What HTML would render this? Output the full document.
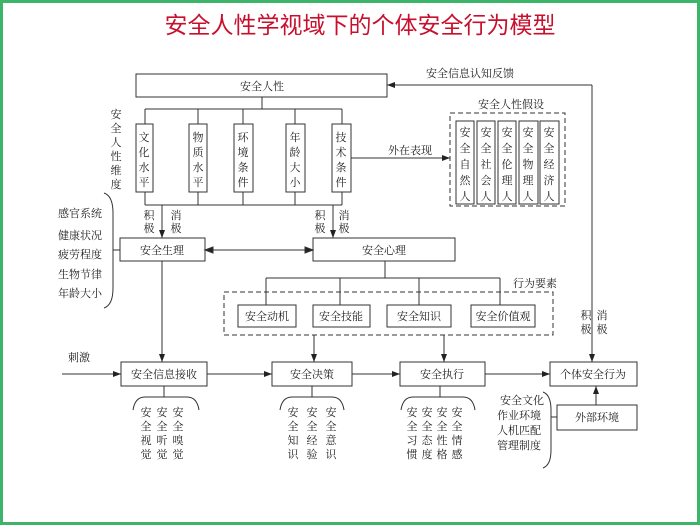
<!DOCTYPE html>
<html><head><meta charset="utf-8"><style>
html,body{margin:0;padding:0;background:#fff;}
svg{display:block;}
text{font-family:"Liberation Serif","Noto Serif CJK SC","Noto Sans CJK SC",serif;fill:#222;font-size:11px;}
</style></head><body>
<svg width="700" height="525" viewBox="0 0 700 525" xmlns="http://www.w3.org/2000/svg">
<defs><marker id="a" markerWidth="8" markerHeight="6" refX="8" refY="3" orient="auto" markerUnits="userSpaceOnUse"><path d="M0,0 L8,3 L0,6 z" fill="#222"/></marker></defs>
<rect x="1.5" y="1.5" width="697" height="522" fill="none" stroke="#3cb46a" stroke-width="3"/>
<text x="360" y="33" text-anchor="middle" style="font-size:23px;fill:#c8102e;font-family:'Liberation Sans','Noto Sans CJK SC',sans-serif">安全人性学视域下的个体安全行为模型</text>
<g stroke="#333" stroke-width="1" fill="none">
<rect x="136" y="74" width="251" height="23"/>
<line x1="592" y1="85" x2="387" y2="85" marker-end="url(#a)"/>
<line x1="592" y1="85" x2="592" y2="362" marker-end="url(#a)"/>
<line x1="262" y1="97" x2="262" y2="109"/>
<line x1="145" y1="109" x2="342" y2="109"/>
<line x1="145" y1="205" x2="342" y2="205"/>
<line x1="145" y1="109" x2="145" y2="205"/><line x1="198" y1="109" x2="198" y2="205"/><line x1="243" y1="109" x2="243" y2="205"/><line x1="295" y1="109" x2="295" y2="205"/><line x1="342" y1="109" x2="342" y2="205"/>
<line x1="162" y1="205" x2="162" y2="238" marker-end="url(#a)"/>
<line x1="333" y1="205" x2="333" y2="238" marker-end="url(#a)"/>
<line x1="351" y1="158" x2="450" y2="158" marker-end="url(#a)"/>
<rect x="450" y="113" width="115" height="93" stroke-dasharray="5,3"/>
<rect x="120" y="238" width="85" height="23"/>
<rect x="313" y="238" width="142" height="23"/>
<line x1="212" y1="250" x2="305" y2="250"/>
<path d="M205,250 l8,-3 v6 z M313,250 l-8,-3 v6 z" fill="#222"/>
<path d="M104,193 q9,3 9,20 v75 q0,17 -9,20"/>
<line x1="113" y1="250" x2="120" y2="250"/>
<line x1="385" y1="261" x2="385" y2="278"/>
<line x1="266" y1="278" x2="500" y2="278"/>
<line x1="266" y1="278" x2="266" y2="305"/><line x1="340" y1="278" x2="340" y2="305"/><line x1="419" y1="278" x2="419" y2="305"/><line x1="500" y1="278" x2="500" y2="305"/>
<rect x="224" y="292" width="329" height="43" stroke-dasharray="5,3"/>
<rect x="238" y="305" width="58" height="22"/>
<rect x="313" y="305" width="57" height="22"/>
<rect x="387" y="305" width="64" height="22"/>
<rect x="471" y="305" width="64" height="22"/>
<line x1="162" y1="261" x2="162" y2="362" marker-end="url(#a)"/>
<line x1="314" y1="335" x2="314" y2="362" marker-end="url(#a)"/>
<line x1="444" y1="335" x2="444" y2="362" marker-end="url(#a)"/>
<rect x="121" y="362" width="86" height="24"/>
<rect x="272" y="362" width="80" height="24"/>
<rect x="400" y="362" width="85" height="24"/>
<rect x="550" y="362" width="87" height="24"/>
<rect x="557" y="405" width="80" height="25"/>
<line x1="62" y1="374" x2="121" y2="374" marker-end="url(#a)"/>
<line x1="207" y1="374" x2="272" y2="374" marker-end="url(#a)"/>
<line x1="352" y1="374" x2="400" y2="374" marker-end="url(#a)"/>
<line x1="485" y1="374" x2="550" y2="374" marker-end="url(#a)"/>
<line x1="596" y1="405" x2="596" y2="386" marker-end="url(#a)"/>
<line x1="164" y1="386" x2="164" y2="397"/>
<path d="M133,410 q2,-13 12,-13 h42 q10,0 12,13"/>
<line x1="312" y1="386" x2="312" y2="397"/>
<path d="M280,410 q2,-13 12,-13 h40 q10,0 12,13"/>
<line x1="440" y1="386" x2="440" y2="397"/>
<path d="M401,410 q2,-13 12,-13 h50 q10,0 12,13"/>
<path d="M543,392 q8,3 8,18 v40 q0,15 -8,18"/>
<line x1="551" y1="417" x2="557" y2="417"/>
</g>
<g>
<rect x="456" y="121" width="18" height="83" fill="none" stroke="#333"/>
<rect x="477" y="121" width="18" height="83" fill="none" stroke="#333"/>
<rect x="498" y="121" width="18" height="83" fill="none" stroke="#333"/>
<rect x="519" y="121" width="19" height="83" fill="none" stroke="#333"/>
<rect x="540" y="121" width="19" height="83" fill="none" stroke="#333"/>
<rect x="136" y="124" width="17" height="68" fill="#fff" stroke="#333"/>
<rect x="189" y="124" width="18" height="68" fill="#fff" stroke="#333"/>
<rect x="234" y="124" width="19" height="68" fill="#fff" stroke="#333"/>
<rect x="286" y="124" width="19" height="68" fill="#fff" stroke="#333"/>
<rect x="332" y="124" width="19" height="68" fill="#fff" stroke="#333"/>
</g>
<g text-anchor="middle">
<text x="262" y="90">安全人性</text>
<text x="470" y="77">安全信息认知反馈</text>
<text x="511" y="108">安全人性假设</text>
<text x="410" y="154">外在表现</text>
<text x="162" y="254">安全生理</text>
<text x="384" y="254">安全心理</text>
<text x="535" y="287">行为要素</text>
<text x="267" y="320">安全动机</text>
<text x="341" y="320">安全技能</text>
<text x="419" y="320">安全知识</text>
<text x="503" y="320">安全价值观</text>
<text x="164" y="378">安全信息接收</text>
<text x="312" y="378">安全决策</text>
<text x="442" y="378">安全执行</text>
<text x="593" y="378">个体安全行为</text>
<text x="597" y="421">外部环境</text>
<text x="79" y="361">刺激</text>
<text x="149" y="219">积</text><text x="149" y="232">极</text>
<text x="176" y="219">消</text><text x="176" y="232">极</text>
<text x="320" y="219">积</text><text x="320" y="232">极</text>
<text x="344" y="219">消</text><text x="344" y="232">极</text>
<text x="586" y="319">积</text><text x="586" y="333">极</text>
<text x="602" y="319">消</text><text x="602" y="333">极</text>
</g>
<g text-anchor="start">
<text x="58" y="217">感官系统</text>
<text x="58" y="239">健康状况</text>
<text x="58" y="258">疲劳程度</text>
<text x="58" y="278">生物节律</text>
<text x="58" y="297">年龄大小</text>
<text x="500" y="404">安全文化</text>
<text x="497" y="419">作业环境</text>
<text x="497" y="434">人机匹配</text>
<text x="497" y="449">管理制度</text>
</g>
<g text-anchor="middle">
<text x="116" y="118">安</text><text x="116" y="132">全</text><text x="116" y="146">人</text><text x="116" y="160">性</text><text x="116" y="174">维</text><text x="116" y="188">度</text>
<text x="144" y="141">文</text><text x="144" y="156">化</text><text x="144" y="171">水</text><text x="144" y="186">平</text>
<text x="198" y="141">物</text><text x="198" y="156">质</text><text x="198" y="171">水</text><text x="198" y="186">平</text>
<text x="243" y="141">环</text><text x="243" y="156">境</text><text x="243" y="171">条</text><text x="243" y="186">件</text>
<text x="295" y="141">年</text><text x="295" y="156">龄</text><text x="295" y="171">大</text><text x="295" y="186">小</text>
<text x="341" y="141">技</text><text x="341" y="156">术</text><text x="341" y="171">条</text><text x="341" y="186">件</text>
<text x="465" y="136">安</text><text x="465" y="152">全</text><text x="465" y="168">自</text><text x="465" y="184">然</text><text x="465" y="200">人</text>
<text x="486" y="136">安</text><text x="486" y="152">全</text><text x="486" y="168">社</text><text x="486" y="184">会</text><text x="486" y="200">人</text>
<text x="507" y="136">安</text><text x="507" y="152">全</text><text x="507" y="168">伦</text><text x="507" y="184">理</text><text x="507" y="200">人</text>
<text x="528" y="136">安</text><text x="528" y="152">全</text><text x="528" y="168">物</text><text x="528" y="184">理</text><text x="528" y="200">人</text>
<text x="549" y="136">安</text><text x="549" y="152">全</text><text x="549" y="168">经</text><text x="549" y="184">济</text><text x="549" y="200">人</text>
<text x="146" y="416">安</text><text x="146" y="430">全</text><text x="146" y="444">视</text><text x="146" y="458">觉</text>
<text x="162" y="416">安</text><text x="162" y="430">全</text><text x="162" y="444">听</text><text x="162" y="458">觉</text>
<text x="178" y="416">安</text><text x="178" y="430">全</text><text x="178" y="444">嗅</text><text x="178" y="458">觉</text>
<text x="293" y="416">安</text><text x="293" y="430">全</text><text x="293" y="444">知</text><text x="293" y="458">识</text>
<text x="312" y="416">安</text><text x="312" y="430">全</text><text x="312" y="444">经</text><text x="312" y="458">验</text>
<text x="331" y="416">安</text><text x="331" y="430">全</text><text x="331" y="444">意</text><text x="331" y="458">识</text>
<text x="412" y="416">安</text><text x="412" y="430">全</text><text x="412" y="444">习</text><text x="412" y="458">惯</text>
<text x="427" y="416">安</text><text x="427" y="430">全</text><text x="427" y="444">态</text><text x="427" y="458">度</text>
<text x="442" y="416">安</text><text x="442" y="430">全</text><text x="442" y="444">性</text><text x="442" y="458">格</text>
<text x="457" y="416">安</text><text x="457" y="430">全</text><text x="457" y="444">情</text><text x="457" y="458">感</text>
</g>
</svg>
</body></html>
